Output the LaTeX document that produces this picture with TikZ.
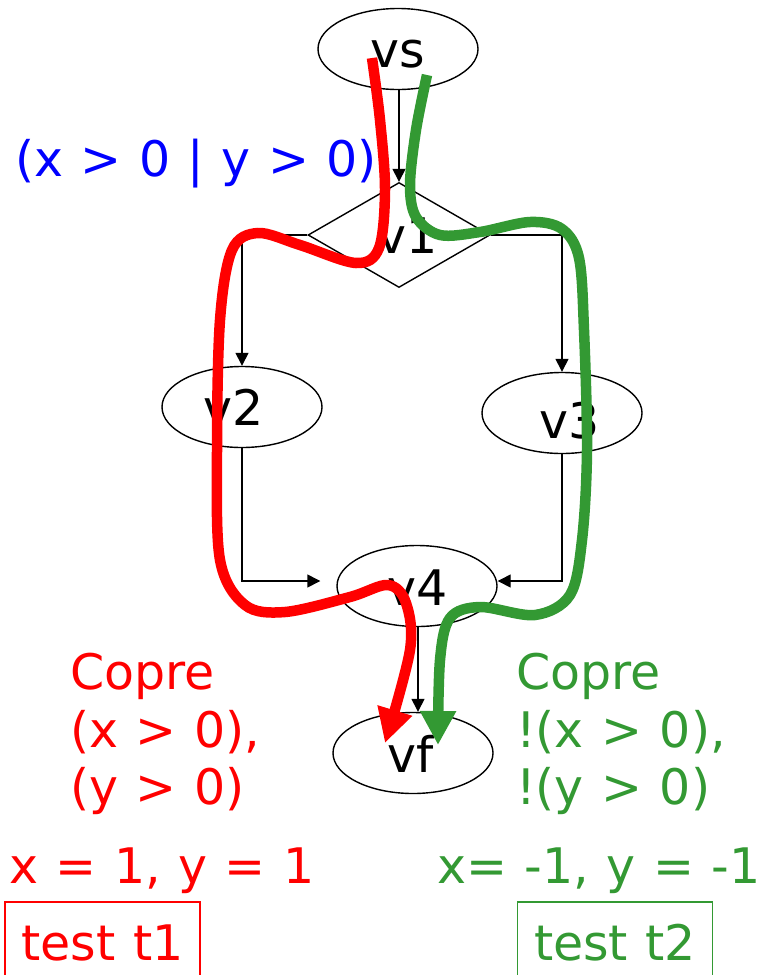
\documentclass[tikz,border=0pt]{standalone}
\usepackage{fontspec}
\setmainfont{DejaVu Sans}[WordSpace=1.12]
\usetikzlibrary{shapes.geometric,arrows.meta,calc}
\definecolor{pgreen}{RGB}{51,153,51}
\begin{document}
\begin{tikzpicture}[x=1pt,y=-1pt,
  every node/.style={inner sep=0pt, font=\fontsize{49}{57.5}\selectfont},
  vert/.style={ellipse, draw, line width=1.4pt, minimum width=160pt, minimum height=81pt},
  lbl/.style={anchor=base},
  edge/.style={line width=1.4pt, -{Triangle[length=13pt,width=13pt]}},
  trail/.style={line width=10.5pt, -{Triangle[length=34pt,width=34pt]}},
  tbox/.style={draw, line width=1.4pt, minimum width=195pt, minimum height=82pt},
]
\useasboundingbox (0,0) rectangle (762,975);

% graph nodes
\node[vert] (vs) at (398,49) {};
\node[diamond, draw, line width=1.4pt, minimum width=182pt, minimum height=105pt] (v1) at (399,235) {};
\node[vert] (v2) at (242,407) {};
\node[vert] (v3) at (562,413) {};
\node[vert] (v4) at (417,586) {};
\node[vert] (vf) at (413,753) {};

% labels
\node[lbl] (vsl) at (398,67) {vs};
\node[lbl] (v1l) at (408,253) {v1};
\node[lbl] (v2l) at (234,425) {v2};
\node[lbl] (v3l) at (570,438) {v3};
\node[lbl] (v4l) at (418,605) {v4};
\node[lbl] (vfl) at (411,772) {vf};

% edges
\draw[edge] (v1.north |- vs.south) -- (v1.north);
\draw[edge] (v1.west) -| (v2.north);
\draw[edge] (v1.east) -| (v3.north);
\draw[edge, shorten >=16pt] (v2.south) |- ([yshift=5pt]v4.west);
\draw[edge] (v3.south) |- ([yshift=5pt]v4.east);
\draw[edge] ([xshift=1pt]v4.south) -- ([xshift=1pt]v4.south |- vf.north);

% texts
\node[text=blue, anchor=base west] (cond) at (15,176) {(x > 0 | y > 0)};
\node[text=red, anchor=north west, align=left] (cpre1) at (70,653) {Copre\\(x > 0),\\(y > 0)};
\node[text=pgreen, anchor=north west, align=left] (cpre2) at (516,653) {Copre\\!(x > 0),\\!(y > 0)};
\node[text=red, anchor=base west] (val1) at (9,883) {x = 1, y = 1};
\node[text=pgreen, anchor=base west] (val2) at (437,883) {x= -1, y = -1};
\node[tbox, draw=red, text=red] (t1) at (102.5,943) {test t1};
\node[tbox, draw=pgreen, text=pgreen] (t2) at (615,943) {test t2};

% paths
\draw[trail, red] plot[smooth, tension=0.55] coordinates {(372,58) (380,120) (385,190) (379,248) (356,263) (300,245) (258,233) (232,250) (220,320) (217,450) (220,560) (245,605) (285,612) (350,597) (388,585) (406,603) (410,650) (385,743)};
\draw[trail, pgreen] plot[smooth, tension=0.55] coordinates {(427,75) (416,130) (410,185) (416,217) (440,235) (480,232) (530,222) (562,229) (579,258) (584,330) (587,450) (582,540) (570,595) (535,615) (480,607) (450,618) (440,660) (438,745)};
\end{tikzpicture}
\end{document}
